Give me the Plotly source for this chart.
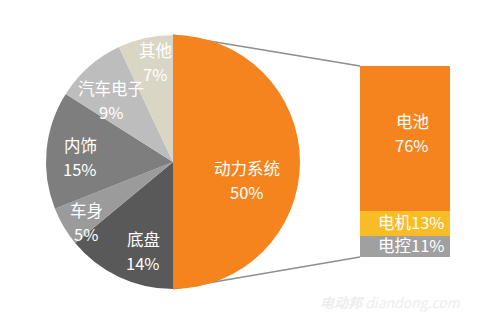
import math
import plotly.graph_objects as go

# ---- data ----
pie_labels = ["动力系统", "底盘", "车身", "内饰", "汽车电子", "其他"]
pie_values = [50, 14, 5, 15, 9, 7]
pie_colors = ["#F5841F", "#595959", "#9B9B9B", "#7E7E7E", "#BDBDBD", "#DAD6C5"]
# label placement (style): radius fraction and angle shift (deg) from slice mid-angle
pie_label_radius = [0.60, 0.74, 0.83, 0.73, 0.69, 0.80]
pie_label_shift = [13.7, -6.6, -4.0, -2.4, -3.6, 2.4]

bar_labels = ["电控", "电机", "电池"]
bar_values = [11, 13, 76]
bar_colors = ["#A0A0A0", "#F8BC27", "#F5841F"]

W, H = 480, 328
FONT = "Noto Sans CJK SC, Noto Sans, sans-serif"
FS = 16.5
LINE_GAP = 24  # px between the two text lines

# pie placement (pixels)
pcx, pcy, pr = 173, 162, 127
pie_dom_x = [(pcx - pr) / W, (pcx + pr) / W]
pie_dom_y = [(H - pcy - pr) / H, (H - pcy + pr) / H]

# bar axes domains
bar_dom_x = [360 / W, 450 / W]
bar_dom_y = [(H - 257) / H, (H - 66) / H]

fig = go.Figure()
fig.add_trace(go.Pie(
    labels=pie_labels, values=pie_values, sort=False, direction="clockwise",
    rotation=0, marker=dict(colors=pie_colors, line=dict(width=0)),
    textinfo="none", hoverinfo="label+percent", showlegend=False,
    domain=dict(x=pie_dom_x, y=pie_dom_y),
))

for lab, val, col in zip(bar_labels, bar_values, bar_colors):
    fig.add_trace(go.Bar(
        x=[0], y=[val], name=lab, marker=dict(color=col, line=dict(width=0)),
        width=1, showlegend=False, xaxis="x", yaxis="y",
    ))

annotations = []


def two_lines(x, y, xref, yref, l1, l2):
    for txt, shift in ((l1, LINE_GAP / 2), (l2, -LINE_GAP / 2)):
        annotations.append(dict(
            x=x, y=y, xref=xref, yref=yref, yshift=shift, showarrow=False,
            text=txt, font=dict(family=FONT, size=FS, color="white"),
            xanchor="center", yanchor="middle",
        ))


# pie labels, from cumulative angles
total = sum(pie_values)
cum = 0
pcx_p = (pie_dom_x[0] + pie_dom_x[1]) / 2
pcy_p = (pie_dom_y[0] + pie_dom_y[1]) / 2
for lab, val, f, sh in zip(pie_labels, pie_values, pie_label_radius, pie_label_shift):
    mid = (cum + val / 2) / total * 2 * math.pi + math.radians(sh)
    cum += val
    x = pcx_p + math.sin(mid) * f * pr / W
    y = pcy_p + math.cos(mid) * f * pr / H
    two_lines(x, y, "paper", "paper", lab, f"{round(val / total * 100)}%")

# bar labels
btotal = sum(bar_values)
bcum = 0
for lab, val in zip(bar_labels, bar_values):
    mid = bcum + val / 2
    bcum += val
    pct = round(val / btotal * 100)
    if val / btotal > 0.3:
        two_lines(0.08, mid + 3, "x", "y", lab, f"{pct}%")
    else:
        annotations.append(dict(
            x=0.47, y=mid + 1, xref="x", yref="y", showarrow=False,
            text=f"{lab}{pct}%", font=dict(family=FONT, size=FS, color="white"),
            xanchor="right", yanchor="middle",
        ))

# watermark
annotations.append(dict(
    x=0.965, y=0.08, xref="paper", yref="paper", showarrow=False,
    text="<b><i>电动邦</i></b> <i>diandong.com</i>",
    font=dict(family=FONT, size=14, color="#EDEDED"), xanchor="right", yanchor="middle",
))

# connector lines: pie top/bottom -> bar top-left/bottom-left
pie_top = (pcx_p, pie_dom_y[1])
pie_bot = (pcx_p, pie_dom_y[0])
shapes = [
    dict(type="line", xref="paper", yref="paper", x0=pie_top[0], y0=pie_top[1],
         x1=bar_dom_x[0], y1=bar_dom_y[1], line=dict(color="#8E8E8E", width=1.5), layer="below"),
    dict(type="line", xref="paper", yref="paper", x0=pie_bot[0], y0=pie_bot[1],
         x1=bar_dom_x[0], y1=bar_dom_y[0], line=dict(color="#8E8E8E", width=1.5), layer="below"),
]

fig.update_layout(
    width=W, height=H, margin=dict(l=0, r=0, t=0, b=0),
    paper_bgcolor="white", plot_bgcolor="rgba(0,0,0,0)",
    barmode="stack", bargap=0,
    xaxis=dict(domain=bar_dom_x, range=[-0.5, 0.5], visible=False, fixedrange=True),
    yaxis=dict(domain=bar_dom_y, range=[0, btotal], visible=False, fixedrange=True),
    annotations=annotations, shapes=shapes,
    font=dict(family=FONT),
)

fig.write_html("out.html")
